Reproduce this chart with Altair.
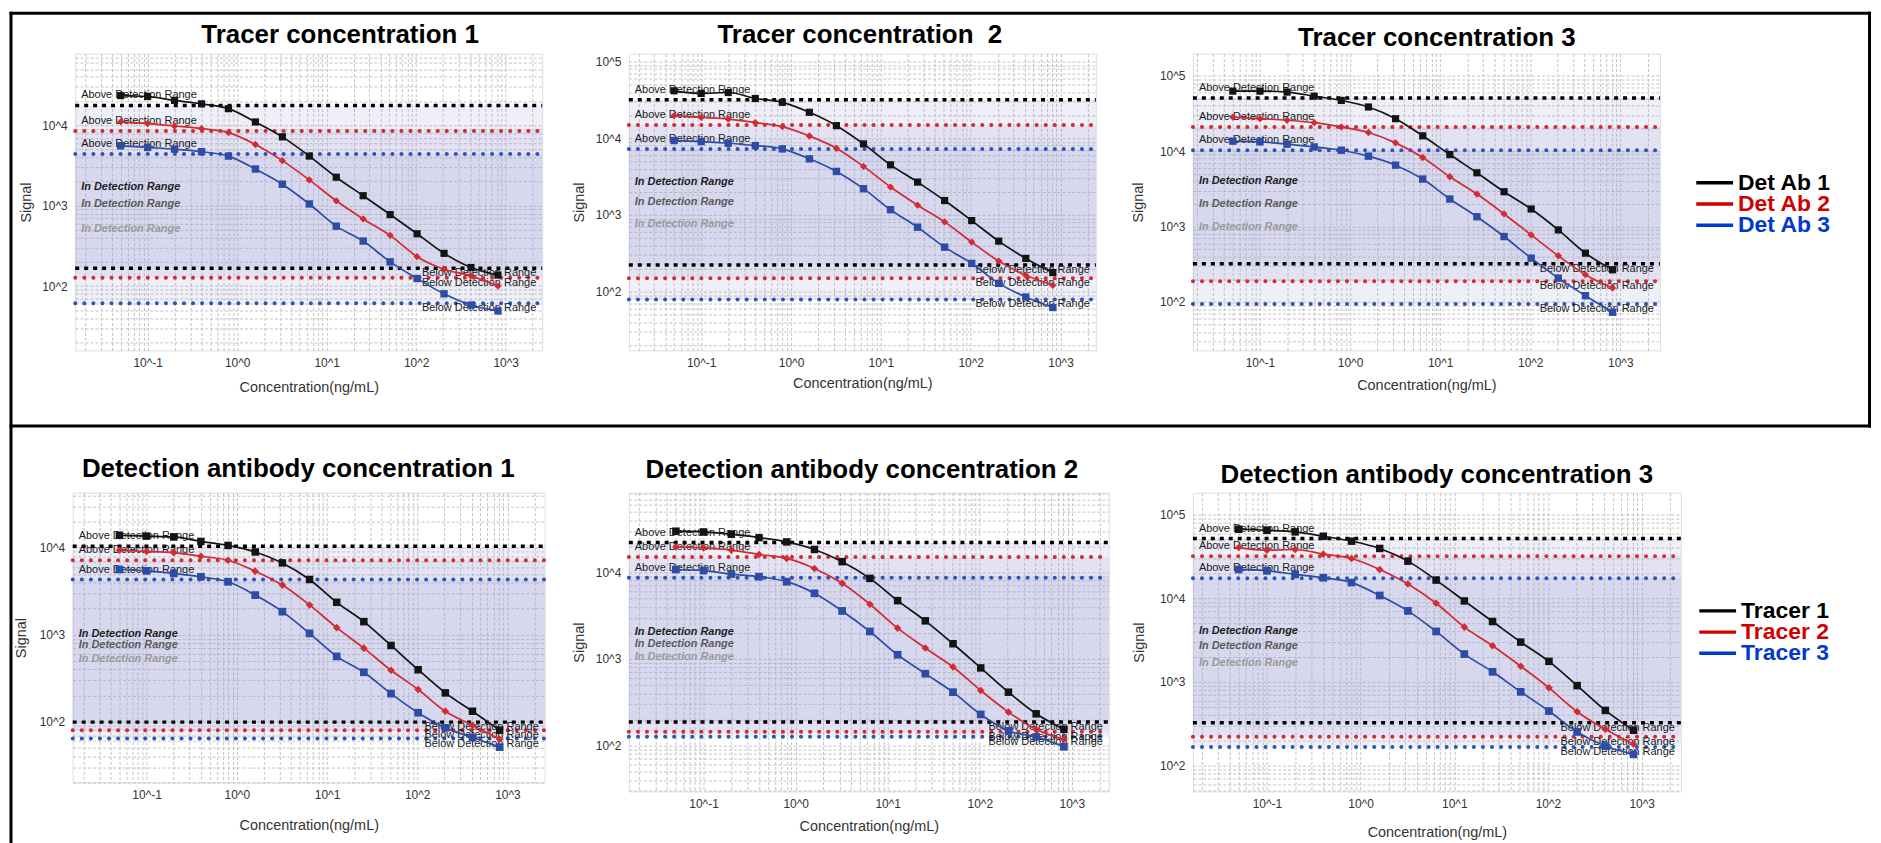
import altair as alt
import pandas as pd

# ---------------- data ----------------
CONC = [0.05, 0.1, 0.2, 0.4, 0.8, 1.6, 3.2, 6.4, 12.8, 25.6, 51.2, 102.4, 204.8, 409.6, 819.2]

NAMES_TOP = ["Det Ab 1", "Det Ab 2", "Det Ab 3"]
NAMES_BOTTOM = ["Tracer 1", "Tracer 2", "Tracer 3"]

TITLES = [
    "Tracer concentration 1",
    "Tracer concentration\u00a0 2",
    "Tracer concentration 3",
    "Detection antibody concentration 1",
    "Detection antibody concentration 2",
    "Detection antibody concentration 3",
]

P1_S1 = [23400, 22800, 20400, 18500, 16100, 11000, 7180, 4140, 2260, 1330, 775, 447, 255, 170, 137]
P1_S2 = [11000, 10500, 9800, 9100, 8120, 5770, 3630, 2090, 1150, 684, 427, 232, 162, 134, 100]
P1_S3 = [5560, 5300, 5050, 4690, 4140, 2860, 1850, 1050, 556, 363, 200, 124, 80, 58, 49]
P1_UPPER = [17650, 8510, 4390]
P1_LOWER = [167, 127, 61]

P2_S1 = [41600, 38400, 39500, 33000, 29400, 21800, 14600, 8440, 4500, 2680, 1540, 844, 455, 271, 177]
P2_S2 = [19700, 18700, 17800, 16000, 14200, 10700, 7410, 4290, 2310, 1340, 811, 442, 250, 163, 121]
P2_S3 = [9330, 9050, 8610, 8030, 7270, 5390, 3690, 2200, 1170, 692, 380, 233, 128, 85, 62]
P2_UPPER = [31800, 14900, 7260]
P2_LOWER = [222, 149, 79]

P3_S1 = [62700, 62700, 60800, 53800, 47200, 38600, 27000, 16000, 9030, 5170, 2900, 1710, 903, 444, 267]
P3_S2 = [28400, 27000, 25700, 23900, 21000, 17700, 12900, 8250, 4580, 2700, 1470, 776, 410, 230, 153]
P3_S3 = [13600, 13300, 12400, 11400, 10300, 8590, 6530, 4270, 2320, 1350, 738, 381, 207, 121, 73]
P3_UPPER = [50700, 21000, 10300]
P3_LOWER = [321, 188, 94]

P4_S1 = [14000, 13700, 13400, 11900, 10700, 9000, 6730, 4340, 2370, 1420, 755, 397, 215, 132, 80]
P4_S2 = [9400, 9150, 8840, 8030, 7230, 5410, 3740, 2210, 1210, 703, 391, 235, 132, 91, 63]
P4_S3 = [5650, 5450, 5090, 4660, 4080, 2870, 1850, 1040, 565, 371, 211, 127, 85, 66, 51]
P4_UPPER = [10500, 7230, 4340]
P4_LOWER = [99, 80, 64]

P5_S1 = [29900, 29300, 27600, 25200, 22500, 18400, 13300, 8530, 4720, 2760, 1500, 789, 414, 233, 154]
P5_S2 = [19700, 19200, 18100, 16100, 14500, 11100, 7480, 4290, 2270, 1340, 809, 433, 244, 154, 118]
P5_S3 = [10800, 10500, 9570, 8920, 7820, 5740, 3590, 2080, 1120, 678, 414, 229, 148, 126, 97]
P5_UPPER = [22100, 15100, 8690]
P5_LOWER = [187, 145, 127]

P6_S1 = [66900, 65000, 62200, 55200, 48200, 39400, 27800, 16500, 9290, 5270, 2990, 1760, 903, 456, 264]
P6_S2 = [40400, 37600, 38300, 33700, 29900, 22100, 14800, 8710, 4520, 2710, 1540, 849, 440, 271, 180]
P6_S3 = [22100, 21300, 19300, 17600, 15400, 10800, 7060, 4010, 2150, 1320, 760, 448, 252, 171, 136]
P6_UPPER = [51800, 31900, 17300]
P6_LOWER = [325, 221, 167]

# ---------------- style ----------------
FONT = "Liberation Sans"
SERIES_COLORS = ["#141414", "#d22b32", "#2c4ca6"]
LIMIT_COLORS = ["#000000", "#d42a30", "#2d55b8"]
IN_COLORS = ["#1e1e1e", "#5a5a5a", "#9a9a9a"]
LEGEND_COLORS = ["#000000", "#d00000", "#0038d0"]
SHAPES = ["square", "diamond", "square"]
SIZES = [52, 60, 80]

LABEL_EXPR = ("abs(log(datum.value)/LN10 - round(log(datum.value)/LN10)) < 0.001 ? "
              "'10^' + round(log(datum.value)/LN10) : ''")


def log_values(lo, hi):
    out = []
    for e in range(-3, 7):
        for k in range(1, 10):
            v = k * 10.0 ** e
            if lo <= v <= hi:
                out.append(v)
    return out


GEO = [
    dict(w=469, h=298, x=(-1.809, 3.408), y=(1.200, 4.892), tdx=31.5, toff=10.7, ytx=-49, xty=37),
    dict(w=469, h=298, x=(-1.805, 3.392), y=(1.234, 5.104), tdx=-2.5, toff=10.7, ytx=-49.5, xty=33),
    dict(w=469, h=298, x=(-1.744, 3.439), y=(1.358, 5.295), tdx=10.5, toff=7.7, ytx=-55, xty=35),
    dict(w=474, h=291, x=(-1.819, 3.413), y=(1.301, 4.636), tdx=-10.5, toff=16.2, ytx=-51.5, xty=43),
    dict(w=482, h=300, x=(-1.812, 3.401), y=(1.471, 4.920), tdx=-7, toff=14.7, ytx=-50, xty=35),
    dict(w=490, h=300, x=(-1.790, 3.418), y=(1.690, 5.262), tdx=0, toff=9.7, ytx=-53.5, xty=41),
]

ONE = pd.DataFrame({"v": [0]})


def frame_rule(**enc):
    return alt.Chart(ONE).mark_rule(color="black", strokeWidth=3, strokeCap="square").encode(**enc)


def panel(title, names, s1, s2, s3, upper, lower, geo, frame=False):
    w, h = geo["w"], geo["h"]
    xd = [10 ** geo["x"][0], 10 ** geo["x"][1]]
    yd = [10 ** geo["y"][0], 10 ** geo["y"][1]]
    pts = pd.DataFrame({
        "conc": CONC * 3,
        "signal": s1 + s2 + s3,
        "series": [names[0]] * len(s1) + [names[1]] * len(s2) + [names[2]] * len(s3),
    })
    lim = pd.DataFrame({"series": names, "upper": upper, "lower": lower})

    xs = alt.Scale(type="log", domain=xd, nice=False)
    ys = alt.Scale(type="log", domain=yd, nice=False)
    common = dict(labelExpr=LABEL_EXPR, grid=True, gridColor="#c4c4c4", gridDash=[3, 2], gridWidth=1,
                  ticks=False, domain=False, labelFont=FONT, labelFontSize=12, labelColor="#333333",
                  labelOverlap=False, labelFlush=False, titleFont=FONT, titleFontSize=14.5,
                  titleFontWeight="normal", titleColor="#333333", titleBaseline="middle",
                  titleAlign="center")
    xaxis = alt.Axis(values=log_values(*xd), labelPadding=7, titleX=w / 2, titleY=geo["xty"], **common)
    yaxis = alt.Axis(values=log_values(*yd), labelPadding=8, titleX=geo["ytx"], titleY=h / 2, **common)

    def X(f):
        return alt.X(f, type="quantitative", scale=xs, axis=xaxis, title="Concentration(ng/mL)")

    def Y(f):
        return alt.Y(f, type="quantitative", scale=ys, axis=yaxis, title="Signal")

    band = alt.Chart(lim).mark_rect(fill="#a8a8d8", fillOpacity=0.18).encode(
        x=alt.value(0), x2=alt.value(w), y=Y("upper"), y2=alt.Y2("lower"))

    lim_black = alt.Chart(lim).transform_filter(alt.datum.series == names[0]).transform_fold(
        ["upper", "lower"], as_=["kind", "value"]).mark_rule(
        color=LIMIT_COLORS[0], strokeWidth=3.5, strokeDash=[4, 5]).encode(
        x=alt.value(0), x2=alt.value(w), y=Y("value"))

    lim_col = alt.Chart(lim).transform_filter(alt.datum.series != names[0]).transform_fold(
        ["upper", "lower"], as_=["kind", "value"]).mark_rule(
        strokeWidth=4, strokeDash=[0.1, 9], strokeCap="round").encode(
        x=alt.value(0), x2=alt.value(w), y=Y("value"),
        color=alt.Color("series:N", scale=alt.Scale(domain=names, range=LIMIT_COLORS), legend=None))

    above = alt.Chart(lim).mark_text(text="Above Detection Range", align="left", baseline="middle",
                                     dy=-10, fontSize=11, font=FONT, color="#1a1a1a").encode(
        x=alt.value(6), y=Y("upper"))
    below = alt.Chart(lim).mark_text(text="Below Detection Range", align="right", baseline="middle",
                                     dy=5, fontSize=11, font=FONT, color="#1a1a1a").encode(
        x=alt.value(w - 6), y=Y("lower"))
    inside = alt.Chart(lim).transform_calculate(gm="sqrt(datum.upper * datum.lower)").mark_text(
        text="In Detection Range", align="left", baseline="middle", fontSize=11, font=FONT,
        fontStyle="italic", fontWeight="bold").encode(
        x=alt.value(6), y=Y("gm"),
        color=alt.Color("series:N", scale=alt.Scale(domain=names, range=IN_COLORS), legend=None))

    cscale = alt.Scale(domain=names, range=SERIES_COLORS)
    curve = alt.Chart(pts).mark_line(interpolate="monotone", strokeWidth=1.7).encode(
        x=X("conc"), y=Y("signal"),
        color=alt.Color("series:N", scale=cscale, legend=None))
    marks = alt.Chart(pts).mark_point(filled=True, opacity=1).encode(
        x=X("conc"), y=Y("signal"),
        color=alt.Color("series:N", scale=cscale, legend=None),
        shape=alt.Shape("series:N", scale=alt.Scale(domain=names, range=SHAPES), legend=None),
        size=alt.Size("series:O", scale=alt.Scale(domain=names, range=SIZES), legend=None))

    ttl = alt.Chart(ONE).mark_text(text=title, font=FONT, fontSize=26, fontWeight="bold",
                                   color="black", align="center", baseline="alphabetic").encode(
        x=alt.value(w / 2 + geo["tdx"]), y=alt.value(-geo["toff"]))

    layers = [band, lim_black, lim_col, above, below, inside, curve, marks, ttl]
    if frame:
        layers += [
            frame_rule(x=alt.value(-64.5), x2=alt.value(1802), y=alt.value(-40.5)),
            frame_rule(x=alt.value(-64.5), x2=alt.value(1802), y=alt.value(374)),
            frame_rule(x=alt.value(-64.5), y=alt.value(-40.5), y2=alt.value(793)),
            frame_rule(x=alt.value(1802), y=alt.value(-40.5), y2=alt.value(374)),
        ]
    return alt.layer(*layers).resolve_scale(color="independent").properties(width=w, height=h)


def legend_chart(names, y0, y1, xl, h):
    d = pd.DataFrame({"name": names})
    ysc = alt.Scale(domain=names, range=[y0, y1], padding=0)
    csc = alt.Scale(domain=names, range=LEGEND_COLORS)
    lines = alt.Chart(d).mark_rule(strokeWidth=3.5).encode(
        x=alt.value(xl), x2=alt.value(xl + 37),
        y=alt.Y("name:N", scale=ysc, axis=None),
        color=alt.Color("name:N", scale=csc, legend=None))
    txt = alt.Chart(d).mark_text(align="left", baseline="middle", fontSize=23, fontWeight="bold",
                                 font=FONT).encode(
        x=alt.value(xl + 42), y=alt.Y("name:N", scale=ysc, axis=None), text="name:N",
        color=alt.Color("name:N", scale=csc, legend=None))
    return alt.layer(lines, txt).properties(width=20, height=h,
                                            view=alt.ViewBackground(stroke="transparent"))


p1 = panel(TITLES[0], NAMES_TOP, P1_S1, P1_S2, P1_S3, P1_UPPER, P1_LOWER, GEO[0], frame=True)
p2 = panel(TITLES[1], NAMES_TOP, P2_S1, P2_S2, P2_S3, P2_UPPER, P2_LOWER, GEO[1])
p3 = panel(TITLES[2], NAMES_TOP, P3_S1, P3_S2, P3_S3, P3_UPPER, P3_LOWER, GEO[2])
p4 = panel(TITLES[3], NAMES_BOTTOM, P4_S1, P4_S2, P4_S3, P4_UPPER, P4_LOWER, GEO[3])
p5 = panel(TITLES[4], NAMES_BOTTOM, P5_S1, P5_S2, P5_S3, P5_UPPER, P5_LOWER, GEO[4])
p6 = panel(TITLES[5], NAMES_BOTTOM, P6_S1, P6_S2, P6_S3, P6_UPPER, P6_LOWER, GEO[5])

leg1 = legend_chart(NAMES_TOP, 119, 183, -69, 298)
leg2 = legend_chart(NAMES_BOTTOM, 108, 172, -66, 298)

chart = alt.concat(
    p1, p2, p3, leg1, p4, p5, p6, leg2,
    columns=4, bounds="flush", align="each", center=True,
    spacing=alt.RowColnumber(row=143, column=84.5),
).properties(padding=0, background="white"
).configure_view(stroke="#a0a0a0", strokeWidth=2).configure(font=FONT)

chart.save("out.html", embed_options={"renderer": "svg", "actions": False})
